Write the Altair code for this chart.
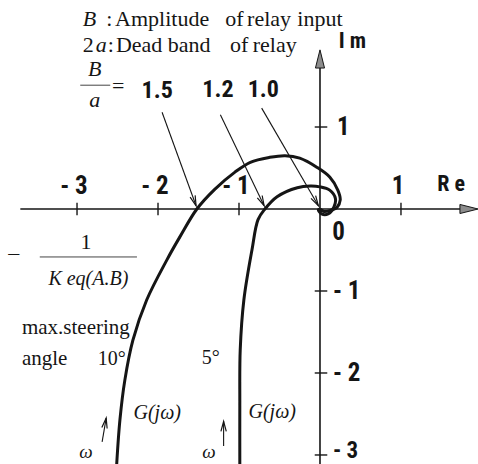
import math
import altair as alt
import pandas as pd

# Nyquist locus G(jw), max. steering angle 10 deg (Re, Im)
g10_re = [-2.51, -2.47, -2.41, -2.31, -2.14, -1.89, -1.73, -1.52, -1.30, -1.05,
          -0.86, -0.62, -0.43, -0.25, -0.04, 0.12, 0.22, 0.25, 0.21, 0.12, 0.05, 0.00]
g10_im = [-3.11, -2.57, -2.09, -1.60, -1.11, -0.62, -0.34, 0.00, 0.24, 0.45,
          0.57, 0.63, 0.65, 0.62, 0.51, 0.39, 0.23, 0.11, 0.02, -0.02, -0.03, 0.00]

# Nyquist locus G(jw), max. steering angle 5 deg (Re, Im)
g5_re = [-0.99, -0.99, -0.985, -0.94, -0.84, -0.765, -0.68, -0.53, -0.28,
         -0.12, 0.00, 0.12, 0.19, 0.17, 0.10, 0.02, -0.02, 0.00]
g5_im = [-3.11, -2.40, -1.72, -1.11, -0.50, -0.13, 0.00, 0.15, 0.26,
         0.28, 0.27, 0.23, 0.13, 0.02, -0.06, -0.06, -0.01, 0.00]

re_ticks = [-3, -2, -1, 1]
re_tick_labels = ["- 3", "- 2", "- 1", "1"]
im_ticks = [1, -1, -2, -3]
im_tick_labels = ["1", "- 1", "- 2", "- 3"]

# -1/Keq(A,B) on the negative real axis for B/a = 1.5, 1.2, 1.0
ratio_labels = ["1.5", "1.2", "1.0"]
crit_re = [-1.53, -0.69, -0.02]

X_DOM = [-3.951, 1.951]
Y_DOM = [-3.110, 2.549]
W, H = 478, 464
PX_X = W / (X_DOM[1] - X_DOM[0])
PX_Y = H / (Y_DOM[1] - Y_DOM[0])

xs = alt.Scale(domain=X_DOM, nice=False, zero=False)
ys = alt.Scale(domain=Y_DOM, nice=False, zero=False)
INK = "#151515"
SERIF = "Times New Roman, Liberation Serif, Tinos, DejaVu Serif, serif"
BOLD = "Roboto Condensed, Roboto, Liberation Sans Narrow, sans-serif"


def X(f="re"):
    return alt.X(f"{f}:Q", scale=xs, axis=None)


def Y(f="im"):
    return alt.Y(f"{f}:Q", scale=ys, axis=None)


def text_layer(rows, size, font=SERIF, style="normal", weight="normal",
               align="center", baseline="middle", dx=0):
    df = pd.DataFrame(rows, columns=["re", "im", "t"])
    return alt.Chart(df).mark_text(
        font=font, fontSize=size, fontStyle=style, fontWeight=weight,
        align=align, baseline=baseline, color=INK, dx=dx,
    ).encode(x=X(), y=Y(), text="t:N")


def heading(re, im):
    """Screen angle (deg, clockwise from up) of a vector given in data units."""
    return math.degrees(math.atan2(re * PX_X, im * PX_Y)) % 360


# ---- curves ----
curves = pd.concat([
    pd.DataFrame({"re": g10_re, "im": g10_im, "curve": "10", "i": range(len(g10_re))}),
    pd.DataFrame({"re": g5_re, "im": g5_im, "curve": "5", "i": range(len(g5_re))}),
])
loci = alt.Chart(curves).mark_line(
    color=INK, strokeWidth=3, interpolate="catmull-rom"
).encode(x=X(), y=Y(), order="i:Q", detail="curve:N")

# ---- axes ----
axis_df = pd.DataFrame({"re": [-3.70, 0.0], "re2": [1.75, 0.0],
                        "im": [0.0, -3.11], "im2": [0.0, 1.85]})
axes = alt.Chart(axis_df).mark_rule(color=INK, strokeWidth=1.6).encode(
    x=X(), x2="re2:Q", y=Y(), y2="im2:Q")

tri_df = pd.DataFrame({"re": [1.84, 0.0], "im": [0.0, 1.83], "ang": [90, 0]})
heads = alt.Chart(tri_df).mark_point(
    shape="M0,-1L0.5,1L-0.5,1Z", filled=True, fill="#8c8c8c", stroke=INK,
    strokeWidth=1, opacity=1, size=330,
).encode(x=X(), y=Y(), angle=alt.Angle("ang:Q", scale=None))

rt = pd.DataFrame({"re": re_ticks, "re2": re_ticks,
                   "im": [-0.075] * 4, "im2": [0.075] * 4})
it = pd.DataFrame({"re": [-0.065] * 4, "re2": [0.09] * 4,
                   "im": im_ticks, "im2": im_ticks})
ticks = alt.Chart(pd.concat([rt, it])).mark_rule(color=INK, strokeWidth=1.4).encode(
    x=X(), x2="re2:Q", y=Y(), y2="im2:Q")

re_lab = text_layer([(v, 0.28, t) for v, t in zip(re_ticks, re_tick_labels)],
                    25, font=BOLD, weight="bold", dx=-3)
im_lab = text_layer([(0.21 if t == "1" else 0.16, v, t)
                     for v, t in zip(im_ticks[:-1], im_tick_labels[:-1])]
                    + [(0.15, -0.28, "0")],
                    25, font=BOLD, weight="bold", align="left")
im_lab_low = text_layer([(0.16, -3.100, im_tick_labels[-1])], 23, font=BOLD,
                        weight="bold", align="left", baseline="bottom")
axis_names = text_layer([(1.62, 0.30, "R e"), (0.40, 2.05, "I m")],
                        22, font=BOLD, weight="bold")

# ---- B/a pointers onto -1/Keq ----
arrow_start = [(-1.95, 1.18), (-1.23, 1.15), (-0.72, 1.23)]
arr = pd.DataFrame({
    "re": [s[0] for s in arrow_start], "im": [s[1] for s in arrow_start],
    "re2": crit_re, "im2": [0.04] * 3,
})
arr["ang"] = [heading(e - s, 0.04 - si) for (s, si), e in zip(arrow_start, crit_re)]

# omega direction arrows on the loci
om = pd.DataFrame({"re": [-2.69, -1.19], "im": [-2.84, -2.89],
                   "re2": [-2.64, -1.19], "im2": [-2.55, -2.59]})
om["ang"] = [heading(b - a, d - c) for a, b, c, d in
             zip(om["re"], om["re2"], om["im"], om["im2"])]

all_arrows = pd.concat([arr, om])
shafts = alt.Chart(all_arrows).mark_rule(color=INK, strokeWidth=1.1).encode(
    x=X(), x2="re2:Q", y=Y(), y2="im2:Q")
tips = alt.Chart(all_arrows).mark_point(
    shape="M-0.4,1.5L0,0L0.4,1.5", filled=False, stroke=INK, strokeWidth=1.2,
    opacity=1, size=180,
).encode(x=X("re2"), y=Y("im2"), angle=alt.Angle("ang:Q", scale=None))

ratios = text_layer([(-2.01, 1.44, ratio_labels[0]), (-1.26, 1.45, ratio_labels[1]),
                     (-0.70, 1.45, ratio_labels[2])], 24, font=BOLD, weight="bold")

# ---- legend text ----
words = text_layer([
    (-2.64, 2.232, ":"), (-2.53, 2.232, "Amplitude"), (-1.17, 2.232, "of"),
    (-0.90, 2.232, "relay"), (-0.28, 2.232, "input"),
    (-2.93, 1.915, "2"), (-2.62, 1.915, ":"), (-2.52, 1.915, "Dead"),
    (-1.88, 1.915, "band"), (-1.11, 1.915, "of"), (-0.83, 1.915, "relay"),
], 22, align="left", baseline="alphabetic")
italics = text_layer([(-2.93, 2.232, "B"), (-2.77, 1.915, "a")], 22, style="italic",
                     align="left", baseline="alphabetic")
frac_ba = text_layer([(-2.78, 1.71, "B"), (-2.78, 1.33, "a")], 22, style="italic")
equals = text_layer([(-2.49, 1.50, "=")], 22)

frac_lines = pd.DataFrame({"re": [-2.96, -3.46], "re2": [-2.59, -2.26],
                           "im": [1.51, -0.585], "im2": [1.51, -0.585]})
bars = alt.Chart(frac_lines).mark_rule(color="#444", strokeWidth=1).encode(
    x=X(), x2="re2:Q", y=Y(), y2="im2:Q")

keq = text_layer([(-3.78, -0.54, "\u2013"), (-2.89, -0.40, "1")], 22)
keq_den = text_layer([(-2.86, -0.85, "K eq(A.B)")], 20, style="italic")
steer = text_layer([(-3.68, -1.45, "max.steering"), (-3.68, -1.83, "angle")],
                   21, align="left")
degs = text_layer([(-2.57, -1.83, "10\u00b0"), (-1.35, -1.82, "5\u00b0")], 20)
gjw = text_layer([(-2.01, -2.49, "G(j\u03c9)"), (-0.59, -2.48, "G(j\u03c9)")],
                 20, style="italic")
omegas = text_layer([(-2.89, -3.09, "\u03c9"), (-1.37, -3.09, "\u03c9")],
                    19, style="italic", baseline="bottom")

chart = alt.layer(
    axes, ticks, heads, loci, shafts, tips, bars,
    re_lab, im_lab, im_lab_low, axis_names, ratios, words, italics, frac_ba, equals,
    keq, keq_den, steer, degs, gjw, omegas,
).properties(
    width=W, height=H, padding=0, autosize="none", background="white"
).configure_view(stroke=None)

chart.save("out.html", embed_options={"renderer": "svg", "actions": False})
